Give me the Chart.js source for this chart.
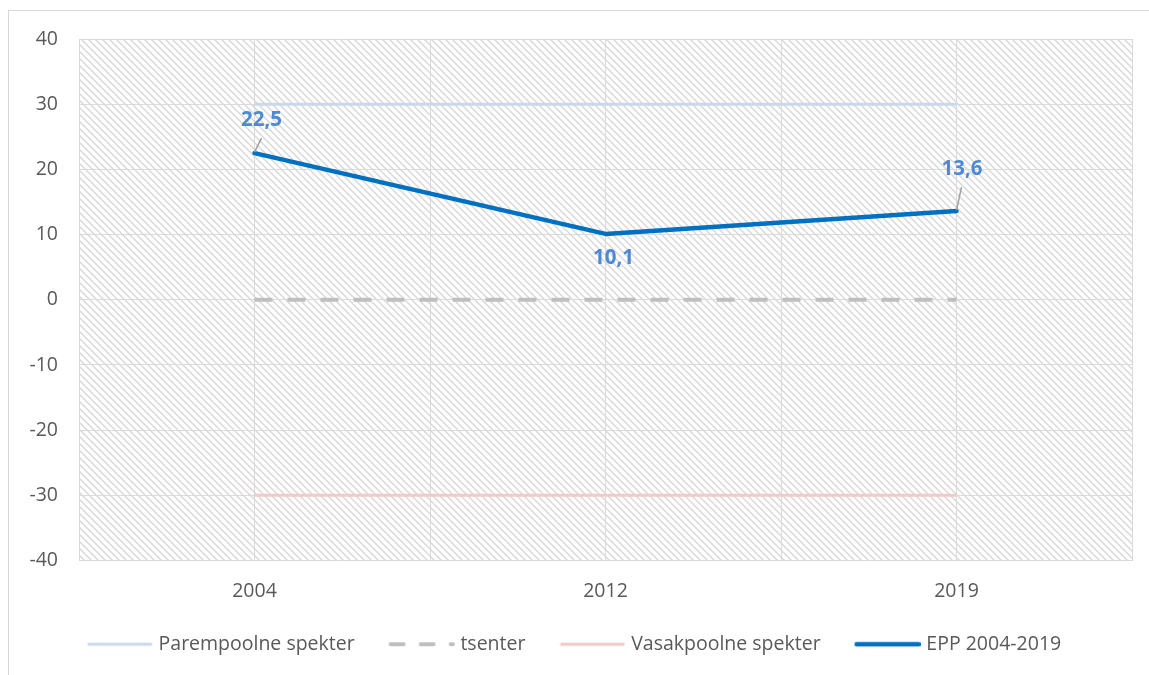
<!DOCTYPE html>
<html><head><meta charset="utf-8">
<script src="https://cdn.jsdelivr.net/npm/chart.js@4.4.1/dist/chart.umd.min.js"></script>
<style>html,body{margin:0;padding:0;background:#fff}canvas{display:block}</style>
</head><body>
<canvas id="c" width="1149" height="675"></canvas>
<script>
// ---- data ----
const categories = ['2004', '2012', '2019'];
const parempoolne = [30, 30, 30];
const tsenter = [0, 0, 0];
const vasakpoolne = [-30, -30, -30];
const epp = [22.5, 10.1, 13.6];
const yTicks = [-40, -30, -20, -10, 0, 10, 20, 30, 40];
const seriesNames = ['Parempoolne spekter', 'tsenter', 'Vasakpoolne spekter', 'EPP 2004-2019'];

// ---- styles ----
const FONT = '"Open Sans", "Noto Sans", sans-serif';
const FS = 19.5;
const TEXT = '#595959';
const GRID = '#dadada';
const colors = ['#c9d8ec', '#bfbfbf', '#f2c9c9', '#0070c0'];
const widths = [3, 4, 3, 4.5];

function sample(color, width, dash) {
  const c = document.createElement('canvas');
  c.width = 74; c.height = 8;
  const g = c.getContext('2d');
  g.strokeStyle = color; g.lineWidth = width; g.lineCap = 'round';
  if (dash) g.setLineDash(dash);
  g.beginPath(); g.moveTo(10, 4); g.lineTo(72, 4); g.stroke();
  return c;
}
const samples = [
  sample(colors[0], 3),
  sample(colors[1], 4, [13, 17]),
  sample(colors[2], 3),
  sample(colors[3], 4.5)
];

function hatch() {
  const c = document.createElement('canvas');
  c.width = 7; c.height = 7;
  const g = c.getContext('2d');
  g.fillStyle = '#ffffff'; g.fillRect(0, 0, 7, 7);
  g.strokeStyle = '#d8d8d8'; g.lineWidth = 1.4;
  for (let k = -1; k <= 1; k++) {
    g.beginPath(); g.moveTo(-7 + k * 7, -7); g.lineTo(14 + k * 7, 14); g.stroke();
  }
  return c;
}

const bgPlugin = {
  id: 'bg',
  beforeDraw(chart) {
    const {ctx, chartArea: a} = chart;
    ctx.save();
    ctx.fillStyle = '#fff';
    ctx.fillRect(0, 0, chart.width, chart.height);
    ctx.strokeStyle = '#d9d9d9'; ctx.lineWidth = 1;
    ctx.strokeRect(8.5, 10.5, chart.width + 20, chart.height + 20);
    ctx.fillStyle = ctx.createPattern(hatch(), 'repeat');
    ctx.fillRect(a.left, a.top, a.right - a.left, a.bottom - a.top);
    ctx.restore();
  }
};

const labelPlugin = {
  id: 'pointLabels',
  afterDatasetsDraw(chart, args, opts) {
    const ctx = chart.ctx;
    const ds = chart.data.datasets[3];
    const meta = chart.getDatasetMeta(3);
    ctx.save();
    meta.data.forEach((pt, i) => {
      const o = opts.offsets[i];
      if (o.leader) {
        ctx.strokeStyle = '#a0a0a0'; ctx.lineWidth = 1.5;
        ctx.beginPath(); ctx.moveTo(pt.x, pt.y - 1);
        ctx.lineTo(pt.x + o.leader[0], pt.y + o.leader[1]); ctx.stroke();
      }
      ctx.fillStyle = '#4d89d4';
      ctx.font = 'bold 20.5px ' + FONT;
      ctx.textAlign = 'center'; ctx.textBaseline = 'middle';
      ctx.fillText(ds.data[i].toFixed(1).replace('.', ','), pt.x + o.dx, pt.y + o.dy);
    });
    ctx.restore();
  }
};

const datasets = [parempoolne, tsenter, vasakpoolne, epp].map((d, i) => ({
  label: seriesNames[i],
  data: d,
  borderColor: colors[i],
  backgroundColor: colors[i],
  borderWidth: widths[i],
  borderDash: i === 1 ? [18, 15] : [],
  borderCapStyle: i === 3 ? 'round' : 'butt',
  borderJoinStyle: 'round',
  pointRadius: 0,
  pointHoverRadius: 0,
  tension: 0,
  xAxisID: 'x',
  order: 4 - i
}));

new Chart(document.getElementById('c'), {
  type: 'line',
  data: { labels: categories, datasets },
  plugins: [bgPlugin, labelPlugin],
  options: {
    responsive: false,
    animation: false,
    events: [],
    layout: { padding: { left: 12, top: 39, right: 17, bottom: 11 } },
    plugins: {
      tooltip: { enabled: false },
      pointLabels: {
        offsets: [
          { dx: 7, dy: -33, leader: [7, -15] },
          { dx: 8, dy: 24 },
          { dx: 5.5, dy: -42, leader: [5, -24] }
        ]
      },
      legend: {
        position: 'bottom',
        labels: {
          usePointStyle: true,
          pointStyleWidth: 66,
          boxHeight: 8,
          padding: 30,
          color: TEXT,
          font: { family: FONT, size: FS },
          generateLabels: (chart) => chart.data.datasets.map((d, i) => ({
            text: d.label,
            pointStyle: samples[i],
            fillStyle: 'transparent',
            strokeStyle: 'transparent',
            lineWidth: 0,
            fontColor: TEXT,
            datasetIndex: i,
            hidden: false
          }))
        }
      }
    },
    scales: {
      x: {
        type: 'category',
        position: 'bottom',
        offset: true,
        grid: { offset: false, color: GRID, drawTicks: false },
        border: { display: false },
        ticks: { padding: 19, color: TEXT, font: { family: FONT, size: FS } },
        afterFit: (s) => { s.height = 44; }
      },
      x2: {
        type: 'category',
        position: 'bottom',
        labels: categories,
        offset: true,
        grid: { offset: true, color: GRID, drawTicks: false },
        border: { display: false },
        ticks: { display: false },
        afterFit: (s) => { s.height = 0; }
      },
      y: {
        min: -40, max: 40,
        grid: { color: GRID, drawTicks: false },
        border: { display: false },
        afterBuildTicks: (s) => { s.ticks = yTicks.map(v => ({ value: v })); },
        ticks: { padding: 21, color: TEXT, font: { family: FONT, size: FS } },
        afterFit: (s) => { s.width = 67; }
      }
    }
  }
});
</script>
</body></html>
